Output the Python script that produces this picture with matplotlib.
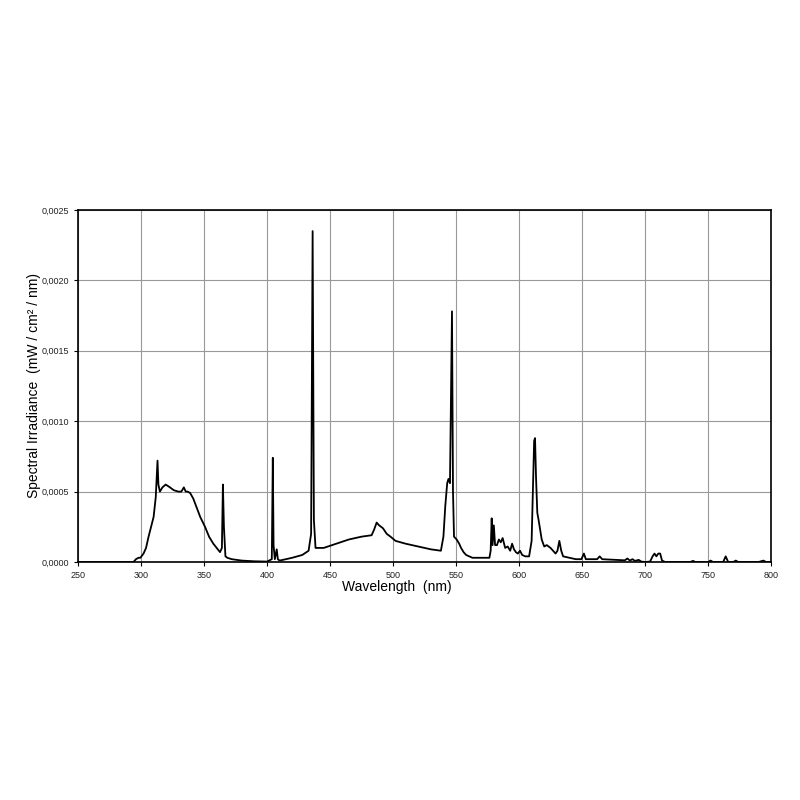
import matplotlib.pyplot as plt
from matplotlib.ticker import MultipleLocator, FuncFormatter

plt.rcParams['font.family'] = ['Liberation Sans', 'DejaVu Sans']

# spectral irradiance (nm, mW/cm2/nm), in bands
uv_nm = [250, 294, 296, 298, 299.5, 302, 304, 306, 308, 310,
         311.7, 312.5, 313.1, 313.8, 315, 317, 319.6, 323, 326, 329.6,
         332, 334, 335.5, 337, 339, 341.5, 344, 347, 350.8, 354,
         357.4, 360, 362.7, 364.2, 365.0, 365.8, 367, 368.5, 372, 380,
         390, 400]
uv_val = [0, 0, 0.00002, 0.00003, 0.00003, 0.00006, 0.0001, 0.00018, 0.00025, 0.00032,
          0.00046, 0.0006, 0.00072, 0.00055, 0.0005, 0.00053, 0.00055, 0.00053, 0.00051, 0.0005,
          0.0005, 0.00053, 0.0005, 0.0005, 0.00049, 0.00045, 0.00039, 0.00032, 0.00025, 0.00018,
          0.00013, 0.0001, 0.00007, 0.0001, 0.00055, 0.00025, 0.00004, 0.00003, 0.00002, 0.00001,
          0.000005, 0.000003]

blue_nm = [403.8, 404.6, 405.2, 406.2, 407.7, 408.6, 410, 420, 428, 433,
           435.0, 436.2, 437.2, 438.5, 445, 455, 465, 475, 483, 485,
           487, 489, 492, 495, 498, 502, 510, 520, 530]
blue_val = [0.00002, 0.00074, 0.00012, 0.00002, 0.00009, 0.00002, 0.00001, 0.00003, 0.00005, 0.00008,
            0.0002, 0.00235, 0.0003, 0.0001, 0.0001, 0.00013, 0.00016, 0.00018, 0.00019, 0.00023,
            0.00028, 0.00026, 0.00024, 0.0002, 0.00018, 0.00015, 0.00013, 0.00011, 0.00009]

green_nm = [538, 540, 541.5, 543, 544, 545.2, 546.0, 546.8, 547.6, 548.4,
            550.5, 552.5, 554, 556, 558, 563, 575]
green_val = [0.00008, 0.00018, 0.0004, 0.00056, 0.00059, 0.00056, 0.0012, 0.00178, 0.0005, 0.00018,
             0.00016, 0.00013, 0.0001, 0.00007, 0.00005, 0.00003, 0.00003]

red_nm = [576.5, 577.5, 578.3, 579.0, 580.0, 581.0, 582.5, 584, 585.5, 587,
          589, 591, 593, 594.5, 596, 597.5, 599, 600.8, 602.5, 605,
          608, 610, 611.3, 612.0, 612.7, 613.5, 614.5, 615.5, 618, 620,
          622, 625, 627, 629, 630.5, 632, 633.5, 635]
red_val = [0.00003, 0.00008, 0.00031, 0.00012, 0.00026, 0.00012, 0.00012, 0.00016, 0.00014, 0.00017,
           0.0001, 0.00011, 0.00008, 0.00013, 0.00009, 0.00007, 0.00006, 0.00008, 0.00005, 0.00004,
           0.00004, 0.00015, 0.0006, 0.00086, 0.00088, 0.0006, 0.00035, 0.0003, 0.00016, 0.00011,
           0.00012, 0.0001, 0.00008, 0.00006, 0.00008, 0.00015, 0.00008, 0.00004]

ir_nm = [645, 649.5, 651.5, 653, 658, 662, 664, 666, 670, 684,
         686, 688, 690, 692, 695, 697, 700, 704, 706, 707.5,
         709, 710.5, 712, 713.5, 716, 720, 736, 738, 740, 750,
         752, 754, 762, 764, 766, 770, 772, 774, 790, 794,
         796, 800]
ir_val = [0.00002, 0.00002, 0.00006, 0.00002, 0.00002, 0.00002, 0.00004, 0.00002, 0.000018, 0.000012,
          0.000025, 0.00001, 0.00002, 0.000008, 0.000015, 0.000003, 0.0, 0.000003, 0.00004, 0.00006,
          0.00004, 0.00006, 0.00006, 0.00001, 0.0, 0.0, 0.0, 0.000008, 0.0, 0.0,
          0.00001, 0.0, 0.0, 0.00004, 0.0, 0.0, 0.00001, 0.0, 0.0, 0.00001,
          0.0, 0.0]

wavelength = uv_nm + blue_nm + green_nm + red_nm + ir_nm
irradiance = uv_val + blue_val + green_val + red_val + ir_val

x_ticks = list(range(250, 801, 50))

fig = plt.figure(figsize=(8, 8), dpi=100)
ax = fig.add_axes((0.0975, 0.2975, 0.8663, 0.44))

ax.plot(wavelength, irradiance, color='black', linewidth=1.3)

ax.set_xlim(250, 800)
ax.set_ylim(0, 0.0025)
ax.set_xticks(x_ticks)
ax.yaxis.set_major_locator(MultipleLocator(0.0005))
ax.yaxis.set_major_formatter(FuncFormatter(lambda v, p: f'{v:.4f}'.replace('.', ',')))
ax.grid(True, color='#999999', linewidth=0.8)
ax.set_axisbelow(True)
for s in ax.spines.values():
    s.set_linewidth(1.2)
ax.tick_params(labelsize=6.5, length=3, width=0.8, direction='out', labelcolor='#222222')

ax.set_xlabel('Wavelength  (nm)', fontsize=10)
ax.xaxis.set_label_coords(0.46, -0.05)
ax.set_ylabel('Spectral Irradiance  (mW / cm² / nm)', fontsize=10, labelpad=0)

fig.savefig('out.png', dpi=100)
